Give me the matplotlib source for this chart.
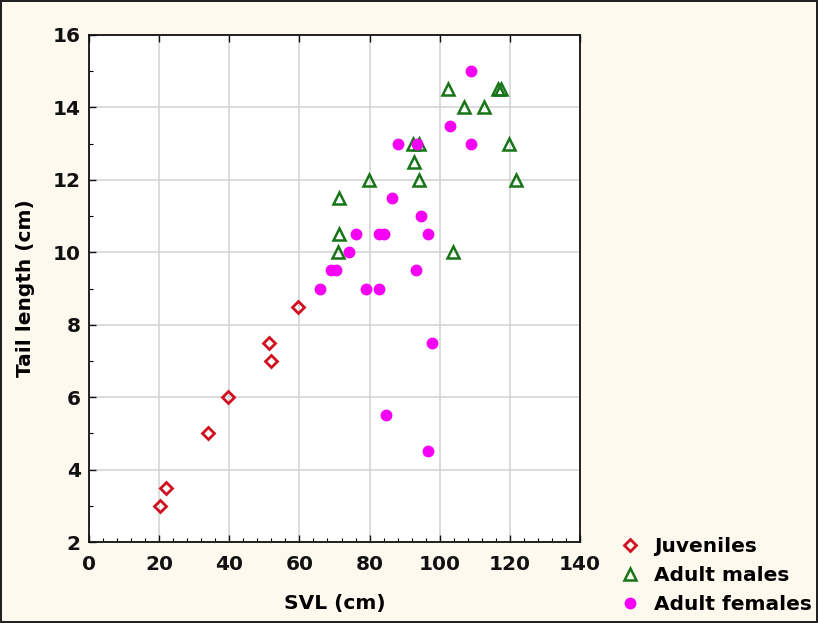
import matplotlib
matplotlib.use("Agg")
import matplotlib.pyplot as plt
from matplotlib.ticker import MultipleLocator, AutoMinorLocator

plt.rcParams['font.family'] = ['DejaVu Sans']
plt.rcParams['font.weight'] = 'bold'

# Data (SVL cm, Tail length cm)
juv_svl = [20.3, 22.0, 34.0, 39.7, 51.4, 52.0, 59.7]
juv_tail = [3.0, 3.5, 5.0, 6.0, 7.5, 7.0, 8.5]

male_svl = [102.3, 107.0, 112.6, 116.5, 117.5, 119.7, 121.7, 92.3, 94.0,
            92.6, 94.0, 79.7, 71.4, 71.4, 71.1, 103.7]
male_tail = [14.5, 14.0, 14.0, 14.5, 14.5, 13.0, 12.0, 13.0, 13.0,
             12.5, 12.0, 12.0, 11.5, 10.5, 10.0, 10.0]

fem_svl = [109.0, 102.9, 88.1, 93.6, 109.0, 86.5, 94.6, 76.0, 82.7, 84.0,
           96.7, 74.2, 68.9, 70.4, 93.1, 65.8, 79.0, 82.7, 97.7, 84.8, 96.8]
fem_tail = [15.0, 13.5, 13.0, 13.0, 13.0, 11.5, 11.0, 10.5, 10.5, 10.5,
            10.5, 10.0, 9.5, 9.5, 9.5, 9.0, 9.0, 9.0, 7.5, 5.5, 4.5]

labels = ["Juveniles", "Adult males", "Adult females"]

W, H = 818, 623
fig = plt.figure(figsize=(W / 100, H / 100), dpi=100)
bg = '#FEF9EE'
fig.patch.set_facecolor(bg)
fig.patch.set_edgecolor('#222222')
fig.patch.set_linewidth(1.5)

ax = fig.add_axes([89 / W, 1 - 542 / H, (580 - 89) / W, (542 - 35) / H])
ax.set_facecolor('white')

ax.plot(juv_svl, juv_tail, linestyle='none', marker='D', markersize=6,
        markerfacecolor='none', markeredgecolor='#D01020', markeredgewidth=2,
        label=labels[0], zorder=3)
ax.plot(male_svl, male_tail, linestyle='none', marker='^', markersize=8,
        markerfacecolor='none', markeredgecolor='#177517', markeredgewidth=1.8,
        label=labels[1], zorder=3)
ax.plot(fem_svl, fem_tail, linestyle='none', marker='o', markersize=7.5,
        markerfacecolor='#F500F5', markeredgecolor='#F500F5',
        label=labels[2], zorder=3)

ax.set_xlim(0, 140)
ax.set_ylim(2, 16)
ax.xaxis.set_major_locator(MultipleLocator(20))
ax.yaxis.set_major_locator(MultipleLocator(2))
ax.xaxis.set_minor_locator(AutoMinorLocator(5))
ax.yaxis.set_minor_locator(AutoMinorLocator(2))
ax.grid(True, which='major', color='#D2D2D2', linewidth=1.1, zorder=0)
ax.set_axisbelow(True)

fs = 14.5
ax.tick_params(axis='x', which='major', pad=9)
ax.tick_params(axis='y', which='major', pad=6)
ax.tick_params(axis='both', which='major', direction='in', length=5, width=1,
               labelsize=fs, top=True, right=False, colors='#111111')
ax.tick_params(axis='both', which='minor', direction='in', length=3, width=0.8,
               top=False, right=False)
for lab in ax.get_xticklabels() + ax.get_yticklabels():
    lab.set_fontweight('bold')
for sp in ax.spines.values():
    sp.set_linewidth(1.3)
    sp.set_color('#111111')

ax.set_xlabel("SVL (cm)", fontsize=fs, fontweight='bold', labelpad=15)
ax.set_ylabel("Tail length (cm)", fontsize=fs, fontweight='bold', labelpad=13)

leg = fig.legend(loc='lower left', bbox_to_anchor=(610 / W, 1 / H),
                 frameon=False, prop={'size': fs, 'weight': 'bold'},
                 handletextpad=0.6, labelspacing=0.5, handlelength=1.2,
                 borderaxespad=0)

fig.savefig("out.png", dpi=100, facecolor=fig.get_facecolor(),
            edgecolor=fig.get_edgecolor())
